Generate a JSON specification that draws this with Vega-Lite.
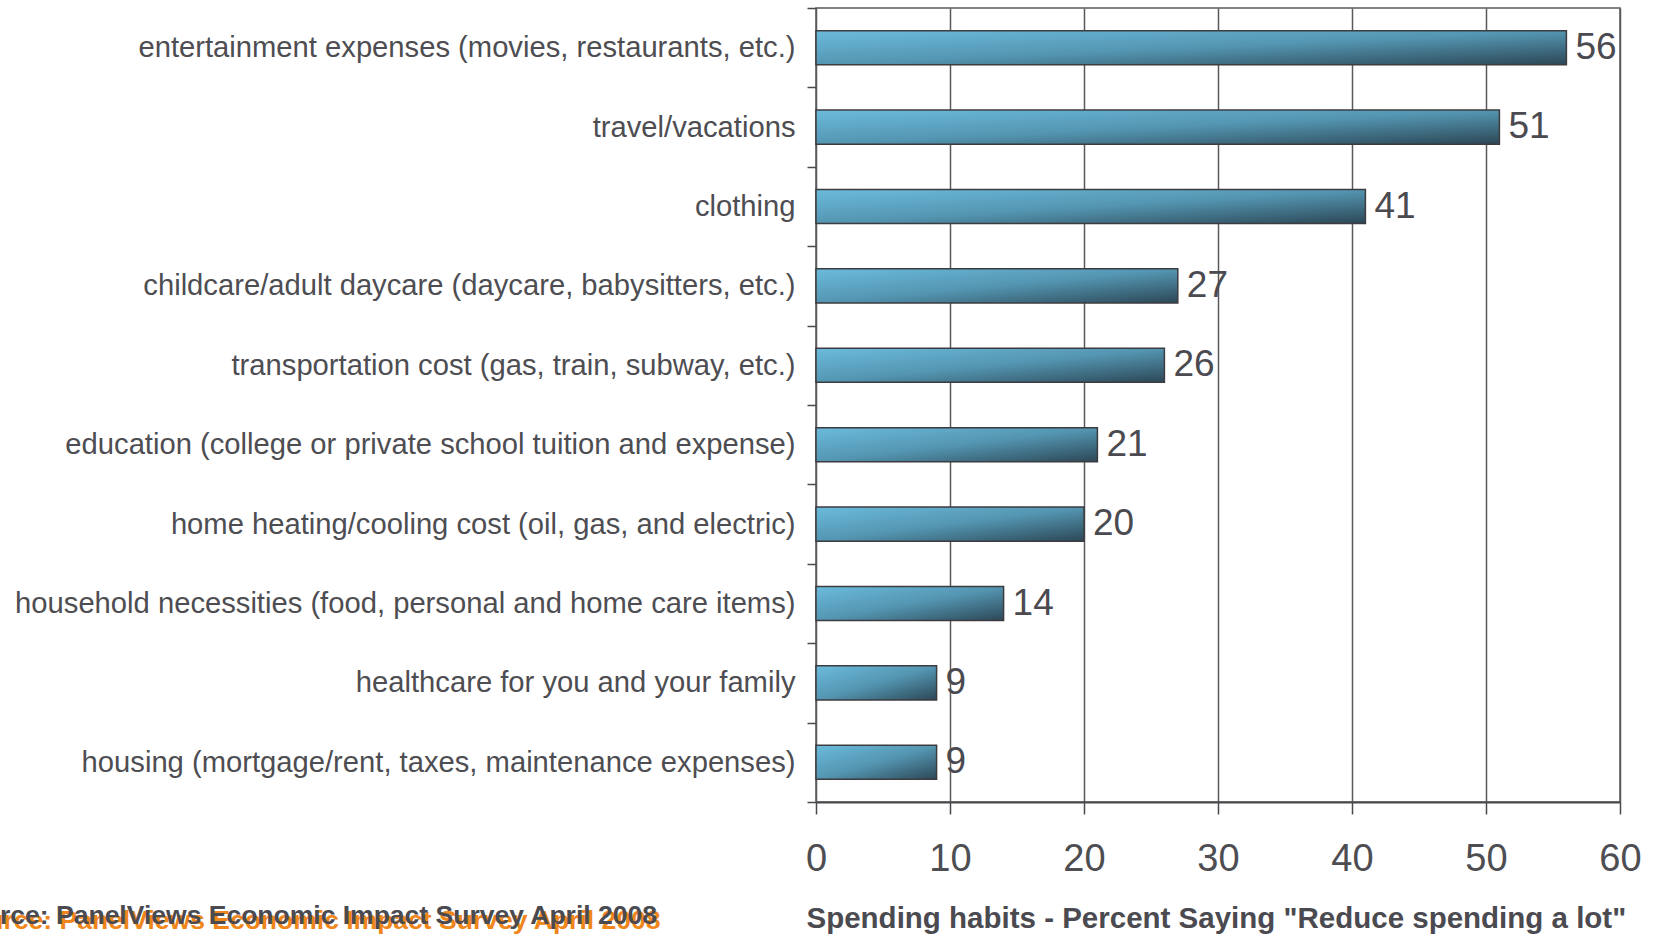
{
  "$schema": "https://vega.github.io/schema/vega-lite/v6.json",
  "autosize": {"type": "none"},
  "width": 804,
  "height": 794,
  "padding": {"left": 816, "top": 8, "right": 35, "bottom": 132},
  "background": "white",
  "config": {
    "font": "Liberation Sans",
    "view": {"stroke": "#5a5a5e", "strokeWidth": 1.5}
  },
  "title": {
    "text": "Source: PanelViews Economic Impact Survey April 2008",
    "orient": "bottom",
    "anchor": "start",
    "frame": "group",
    "dx": -866,
    "dy": -22,
    "fontSize": 26.5,
    "fontWeight": "bold",
    "color": "#4a4a50",
    "baseline": "middle"
  },
  "data": {
    "values": [
      {"category": "entertainment expenses (movies, restaurants, etc.)", "value": 56},
      {"category": "travel/vacations", "value": 51},
      {"category": "clothing", "value": 41},
      {"category": "childcare/adult daycare (daycare, babysitters, etc.)", "value": 27},
      {"category": "transportation cost (gas, train, subway, etc.)", "value": 26},
      {"category": "education (college or private school tuition and expense)", "value": 21},
      {"category": "home heating/cooling cost (oil, gas, and electric)", "value": 20},
      {"category": "household necessities (food, personal and home care items)", "value": 14},
      {"category": "healthcare for you and your family", "value": 9},
      {"category": "housing (mortgage/rent, taxes, maintenance expenses)", "value": 9}
    ]
  },
  "encoding": {
    "y": {
      "field": "category",
      "type": "nominal",
      "sort": null,
      "scale": {"paddingInner": 0, "paddingOuter": 0},
      "axis": {
        "orient": "left",
        "tickBand": "extent",
        "ticks": true,
        "tickSize": 9,
        "tickColor": "#4a4a4e",
        "tickWidth": 1.5,
        "domain": false,
        "grid": false,
        "labelFontSize": 29.2,
        "labelColor": "#4d4d52",
        "labelPadding": 12,
        "labelLimit": 2000,
        "title": "Source: PanelViews Economic Impact Survey April 2008",
        "titleAngle": 0,
        "titleX": -863,
        "titleY": 912,
        "titleAlign": "left",
        "titleBaseline": "middle",
        "titleFontSize": 26.5,
        "titleFontWeight": "bold",
        "titleColor": "#f0861a"
      }
    },
    "x": {
      "field": "value",
      "type": "quantitative",
      "scale": {"domain": [0, 60], "nice": false},
      "axis": {
        "values": [0, 10, 20, 30, 40, 50, 60],
        "grid": true,
        "gridColor": "#5a5a5e",
        "gridWidth": 1.5,
        "domainColor": "#4a4a4e",
        "domainWidth": 2,
        "tickColor": "#4a4a4e",
        "tickSize": 12,
        "tickWidth": 1.5,
        "labelFontSize": 38,
        "labelColor": "#4d4d52",
        "labelPadding": 26,
        "labelFlush": false,
        "title": "Spending habits - Percent Saying \"Reduce spending a lot\"",
        "titleFontSize": 29.5,
        "titleFontWeight": "bold",
        "titleColor": "#4a4a50",
        "titleX": -10,
        "titleY": 116,
        "titleAlign": "left",
        "titleAnchor": "start",
        "titleBaseline": "middle"
      }
    }
  },
  "layer": [
    {
      "mark": {
        "type": "bar",
        "height": {"band": 0.43},
        "stroke": "#3c3c40",
        "strokeWidth": 1.5,
        "color": {
          "gradient": "linear",
          "x1": 0, "y1": 0, "x2": 1, "y2": 1,
          "stops": [
            {"offset": 0, "color": "#6bbbdc"},
            {"offset": 0.5, "color": "#5496b2"},
            {"offset": 1, "color": "#2c4756"}
          ]
        }
      }
    },
    {
      "mark": {
        "type": "text",
        "align": "left",
        "baseline": "middle",
        "dx": 9,
        "fontSize": 37,
        "color": "#4a4a50"
      },
      "encoding": {"text": {"field": "value", "type": "quantitative"}}
    }
  ]
}
